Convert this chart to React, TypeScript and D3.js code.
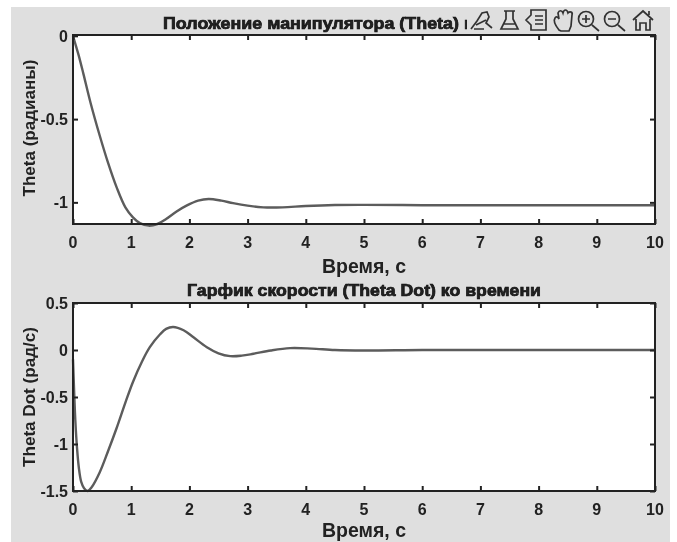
import React, { useEffect, useRef } from 'react';
import * as d3 from 'd3';

const timeTicks = [0, 1, 2, 3, 4, 5, 6, 7, 8, 9, 10];
const thetaTicks = [0, -0.5, -1];
const thetaDotTicks = [0.5, 0, -0.5, -1, -1.5];

const thetaTime = [0, 0.05, 0.1, 0.18, 0.3, 0.46, 0.6, 0.75, 0.9, 1.03, 1.15, 1.3, 1.45, 1.6, 1.78, 1.95, 2.15, 2.33, 2.55, 2.75, 3.0, 3.27, 3.6, 4.0, 4.5, 5, 6, 7, 8, 9, 10];
const thetaValues = [0, -0.06, -0.12, -0.23, -0.4, -0.6, -0.76, -0.91, -1.03, -1.09, -1.125, -1.14, -1.13, -1.1, -1.055, -1.02, -0.99, -0.98, -0.99, -1.005, -1.02, -1.03, -1.03, -1.022, -1.016, -1.015, -1.017, -1.017, -1.017, -1.017, -1.017];

const dotTime = [0, 0.02, 0.04, 0.07, 0.1, 0.14, 0.19, 0.25, 0.32, 0.46, 0.6, 0.75, 0.9, 1.03, 1.18, 1.32, 1.5, 1.6, 1.72, 1.9, 2.07, 2.3, 2.5, 2.7, 2.9, 3.1, 3.4, 3.73, 4.1, 4.5, 5, 6, 7, 8, 9, 10];
const dotValues = [-0.1, -0.45, -0.75, -1.05, -1.25, -1.4, -1.47, -1.5, -1.46, -1.3, -1.08, -0.83, -0.56, -0.34, -0.13, 0.03, 0.17, 0.225, 0.245, 0.21, 0.135, 0.03, -0.035, -0.065, -0.06, -0.04, -0.005, 0.02, 0.015, 0.0, -0.005, 0, 0, 0, 0, 0];

const titleTop = 'Положение манипулятора (Theta) ко времени';
const titleBottom = 'Гарфик скорости (Theta Dot) ко времени';
const xLabel = 'Время, с';

const iconPaths = [
  // brush
  'M471 29 L477 21 L482 13 L487 12 L489 17 L486 23 L492 28 M474 29 L484 29 M476 25 L486 20',
  // flask
  'M501 29 L518 29 L513 19 L513 11 L506 11 L506 19 Z M504 11 L515 11 M504 24 L515 24',
  // data cursor list
  'M526 20 L531 15 L531 10 L546 10 L546 30 L531 30 L531 25 Z M535 16 L543 16 M535 20 L543 20 M535 24 L543 24',
  // hand
  'M559 30 C555 25 553 21 555 18 C556 16 558 17 559 19 L558 13 C559 10 562 10 563 13 C564 9 567 9 568 13 C570 11 573 12 572 15 L571 26 L569 31 L561 31 Z',
  // zoom in
  'M586 11.5 A7.5 7.5 0 1 0 586 26.5 A7.5 7.5 0 1 0 586 11.5 M592 25 L599 31 M582 19 L590 19 M586 15 L586 23',
  // zoom out
  'M612 11.5 A7.5 7.5 0 1 0 612 26.5 A7.5 7.5 0 1 0 612 11.5 M618 25 L625 31 M608 19 L616 19',
  // home
  'M633 20 L643 11 L653 20 M636 19 L636 30 L640 30 L640 23 L646 23 L646 30 L650 30 L650 19 M649 11 L649 15',
];

const font = '"Liberation Sans", Arial, sans-serif';
const ink = '#222';

function drawPanel(
  root: d3.Selection<SVGGElement, unknown, null, undefined>,
  opts: {
    top: number; bottom: number; domain: [number, number]; yTicks: number[];
    xs: number[]; ys: number[]; title: string; titleY: number; titleLength: number;
    yLabel: string; yLabelLength: number; yLabelMid: number; xLabelY: number; xTickY: number;
    id: string; titleClip?: number;
  },
) {
  const left = 73;
  const right = 655;
  const x = d3.scaleLinear().domain([0, 10]).range([left, right]);
  const y = d3.scaleLinear().domain(opts.domain).range([opts.bottom, opts.top]);

  const g = root.append('g');
  g.append('rect')
    .attr('x', left).attr('y', opts.top)
    .attr('width', right - left).attr('height', opts.bottom - opts.top)
    .attr('fill', '#fff');

  const line = d3.line<number>()
    .x((d) => x(d))
    .y((_, i) => y(opts.ys[i]))
    .curve(d3.curveCatmullRom);

  g.append('path')
    .datum(opts.xs)
    .attr('d', line)
    .attr('fill', 'none')
    .attr('stroke', '#5c5c5c')
    .attr('stroke-width', 2.4);

  // ticks on all four sides, pointing inward, MATLAB box style
  const axisB = d3.axisBottom(x).tickValues(timeTicks).tickSize(-5).tickFormat(() => '');
  const axisT = d3.axisTop(x).tickValues(timeTicks).tickSize(-5).tickFormat(() => '');
  const axisL = d3.axisLeft(y).tickValues(opts.yTicks).tickSize(-5).tickFormat(() => '');
  const axisR = d3.axisRight(y).tickValues(opts.yTicks).tickSize(-5).tickFormat(() => '');
  const axes: [any, number, number][] = [
    [axisB, 0, opts.bottom], [axisT, 0, opts.top], [axisL, left, 0], [axisR, right, 0],
  ];
  axes.forEach(([axis, tx, ty]) => {
    const a = g.append('g').attr('transform', `translate(${tx},${ty})`).call(axis);
    a.selectAll('.domain').remove();
    a.selectAll('line').attr('stroke', ink).attr('stroke-width', 2);
  });

  g.append('rect')
    .attr('x', left).attr('y', opts.top)
    .attr('width', right - left).attr('height', opts.bottom - opts.top)
    .attr('fill', 'none')
    .attr('stroke', ink)
    .attr('stroke-width', 2);

  g.selectAll('text.xt')
    .data(timeTicks)
    .enter().append('text')
    .attr('class', 'xt')
    .attr('x', (d) => x(d))
    .attr('y', opts.xTickY)
    .attr('text-anchor', 'middle')
    .attr('font-size', 16)
    .text((d) => String(d));

  g.selectAll('text.yt')
    .data(opts.yTicks)
    .enter().append('text')
    .attr('class', 'yt')
    .attr('x', 68)
    .attr('y', (d) => y(d) + 6)
    .attr('text-anchor', 'end')
    .attr('font-size', 16)
    .text((d) => String(d));

  const title = g.append('text')
    .attr('x', 364)
    .attr('y', opts.titleY)
    .attr('text-anchor', 'middle')
    .attr('font-size', 16.5)
    .attr('textLength', opts.titleLength)
    .attr('lengthAdjust', 'spacingAndGlyphs')
    .attr('stroke', '#111')
    .attr('stroke-width', 0.7)
    .text(opts.title);
  if (opts.titleClip) {
    const clipId = `clip-${opts.id}`;
    root.append('clipPath').attr('id', clipId)
      .append('rect').attr('x', 0).attr('y', 0).attr('width', opts.titleClip).attr('height', 40);
    title.attr('clip-path', `url(#${clipId})`);
  }

  g.append('text')
    .attr('x', 364)
    .attr('y', opts.xLabelY)
    .attr('text-anchor', 'middle')
    .attr('font-size', 19.5)
    .text(xLabel);

  g.append('text')
    .attr('transform', `translate(34.5,${opts.yLabelMid}) rotate(-90)`)
    .attr('text-anchor', 'middle')
    .attr('font-size', 17)
    .attr('textLength', opts.yLabelLength)
    .attr('lengthAdjust', 'spacingAndGlyphs')
    .text(opts.yLabel);
}

export default function App() {
  const svgRef = useRef<SVGSVGElement>(null);

  useEffect(() => {
    const svg = d3.select(svgRef.current);
    svg.selectAll('*').remove();

    const defs = svg.append('defs');
    defs.append('filter').attr('id', 'soft')
      .append('feGaussianBlur').attr('stdDeviation', 0.55);

    const root = svg.append('g')
      .attr('filter', 'url(#soft)')
      .attr('font-family', font)
      .attr('font-weight', 700)
      .attr('fill', ink) as any;

    root.append('rect')
      .attr('x', 11).attr('y', 7)
      .attr('width', 659).attr('height', 535)
      .attr('fill', '#dfdfdf');

    drawPanel(root, {
      top: 35, bottom: 224, domain: [-1.13, 0.005], yTicks: thetaTicks,
      xs: thetaTime, ys: thetaValues, title: titleTop, titleY: 29, titleLength: 402,
      yLabel: 'Theta (радианы)', yLabelLength: 137, yLabelMid: 128, xLabelY: 273, xTickY: 248,
      id: 'top', titleClip: 467,
    });
    drawPanel(root, {
      top: 303, bottom: 491, domain: [-1.5, 0.5], yTicks: thetaDotTicks,
      xs: dotTime, ys: dotValues, title: titleBottom, titleY: 296, titleLength: 354,
      yLabel: 'Theta Dot (рад/с)', yLabelLength: 140, yLabelMid: 397, xLabelY: 537, xTickY: 515,
      id: 'bottom',
    });

    root.append('g')
      .selectAll('path')
      .data(iconPaths)
      .enter().append('path')
      .attr('d', (d) => d)
      .attr('fill', 'none')
      .attr('stroke', '#333')
      .attr('stroke-width', 1.7);
  }, []);

  return (
    <svg
      ref={svgRef}
      width={677}
      height={542}
      style={{ position: 'absolute', left: 0, top: 0, background: '#fff' }}
    />
  );
}
